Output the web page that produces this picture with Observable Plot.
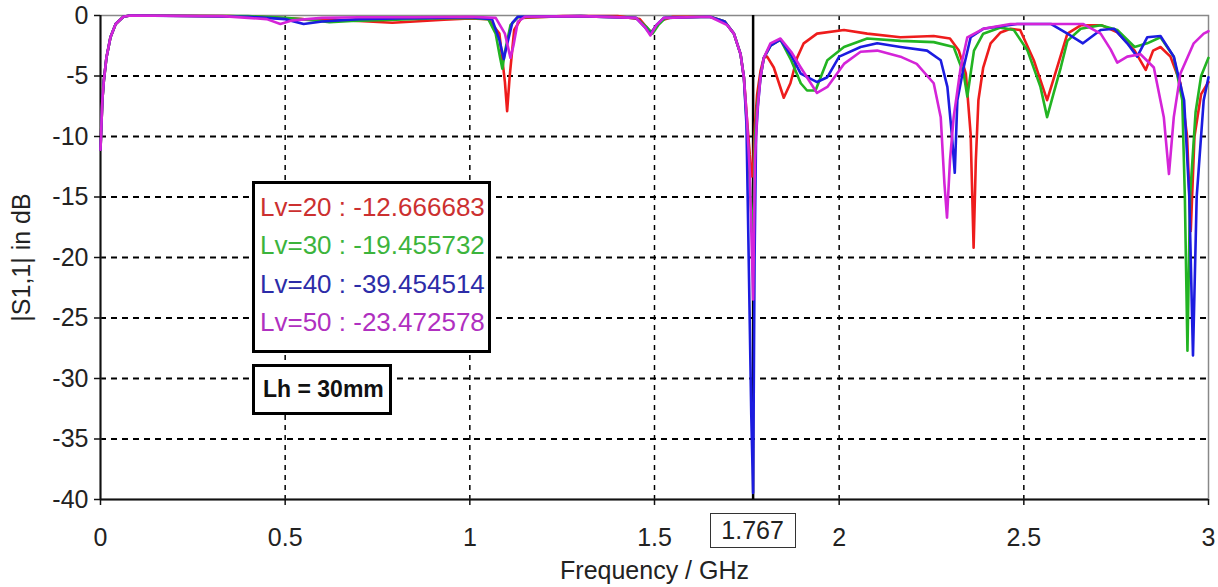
<!DOCTYPE html>
<html><head><meta charset="utf-8">
<script src="https://cdn.jsdelivr.net/npm/d3@7"></script>
<script src="https://cdn.jsdelivr.net/npm/@observablehq/plot@0.6"></script>
<style>
body{margin:0;background:#fff;font-family:"Liberation Sans",Arial,sans-serif;}
#wrap{position:relative;width:1218px;height:587px;overflow:hidden;}
.box{position:absolute;background:#fff;border:3px solid #000;box-sizing:border-box;}
.leg div{position:absolute;left:5px;font-size:26px;line-height:30px;white-space:nowrap;}
.mk{position:absolute;border:1.5px solid #333;box-sizing:border-box;font-size:25px;color:#222;text-align:center;background:#fff;}
</style></head><body><div id="wrap"></div><script>
// ---- data ----
const seriesNames = ["Lv=20", "Lv=30", "Lv=40", "Lv=50"];
const seriesColors = ["#ee1c1c", "#22b422", "#1c1ce0", "#d424d8"];
const legendColors = ["#cc3030", "#3cb43c", "#2c2ca8", "#b030c0"];
const legendValues = ["-12.666683", "-19.455732", "-39.454514", "-23.472578"];
const markerFreq = 1.767;
const lhText = "Lh = 30mm";
const xTicks = [0, 0.5, 1, 1.5, 2, 2.5, 3];
const yTicks = [0, -5, -10, -15, -20, -25, -30, -35, -40];
const xGridTicks = [0.5, 1, 1.5, 2, 2.5];
const yGridTicks = [-5, -10, -15, -20, -25, -30, -35];

const freq20 = [0,0.005,0.009,0.016,0.027,0.041,0.062,0.08,0.35,0.45,0.55,0.62,0.7,0.79,0.85,0.93,1.0,1.05,1.08,1.095,1.101,1.108,1.12,1.14,1.25,1.4,1.46,1.49,1.52,1.55,1.65,1.69,1.715,1.733,1.742,1.75,1.758,1.764,1.767,1.772,1.778,1.787,1.796,1.805,1.823,1.85,1.868,1.886,1.904,1.94,2.013,2.076,2.166,2.256,2.30,2.324,2.343,2.356,2.364,2.37,2.377,2.39,2.41,2.437,2.464,2.49,2.527,2.563,2.59,2.618,2.655,2.71,2.753,2.80,2.83,2.85,2.87,2.897,2.924,2.942,2.952,2.962,2.98,3.0];
const db20 = [-11.1,-7,-5.4,-3.5,-1.8,-0.7,-0.1,0,-0.05,-0.15,-0.3,-0.35,-0.45,-0.6,-0.5,-0.35,-0.25,-0.3,-1.5,-5.5,-7.9,-5,-1.2,-0.2,-0.05,-0.05,-0.3,-1.4,-0.4,-0.1,-0.1,-0.5,-1.5,-3.2,-5.1,-8.4,-11.5,-13.3,-12.67,-9,-6.5,-4.6,-3.5,-3.4,-4.3,-6.8,-5.6,-3.5,-2.3,-1.5,-1.2,-1.5,-1.8,-1.7,-1.9,-2.9,-4.8,-9.8,-19.2,-12,-7,-4.3,-2.3,-1.4,-1.1,-1.2,-3.7,-7,-4.3,-1.5,-0.8,-0.8,-1.4,-2.9,-4.5,-2.9,-2.6,-3.4,-5.6,-10,-17.8,-10,-6.5,-5.5];

const freq30 = [0,0.005,0.009,0.016,0.027,0.041,0.062,0.08,0.4,0.5,0.58,0.62,0.68,0.8,0.9,1.0,1.05,1.07,1.082,1.088,1.095,1.11,1.13,1.3,1.45,1.48,1.495,1.51,1.53,1.65,1.69,1.715,1.733,1.742,1.75,1.756,1.767,1.772,1.778,1.787,1.796,1.814,1.841,1.87,1.896,1.913,1.936,1.968,2.013,2.076,2.166,2.256,2.31,2.337,2.347,2.355,2.365,2.39,2.437,2.473,2.51,2.545,2.563,2.58,2.6,2.618,2.654,2.708,2.753,2.80,2.834,2.87,2.906,2.929,2.936,2.943,2.95,2.965,2.98,3.0];
const db30 = [-11.1,-7,-5.4,-3.5,-1.8,-0.7,-0.1,0,-0.05,-0.2,-0.4,-0.55,-0.45,-0.35,-0.25,-0.2,-0.3,-1.5,-3.5,-4.4,-3,-0.8,-0.15,-0.05,-0.2,-1.0,-1.5,-0.8,-0.2,-0.1,-0.5,-1.5,-3.2,-5.1,-9,-12.5,-19.46,-10,-7.5,-5.1,-3.5,-2.5,-2.0,-3.7,-5.6,-6.2,-6.2,-3.7,-2.6,-1.9,-2.1,-2.2,-2.6,-4.8,-6.7,-5,-2.9,-1.5,-1.0,-1.2,-2.9,-5.9,-8.4,-6.5,-4.3,-2.1,-1.1,-0.8,-1.2,-2.6,-2.3,-1.8,-3.4,-7,-15,-27.7,-15,-8,-5,-3.5];

const freq40 = [0,0.005,0.009,0.016,0.027,0.041,0.062,0.08,0.4,0.5,0.55,0.6,0.7,0.8,0.9,1.0,1.06,1.08,1.092,1.10,1.115,1.13,1.3,1.45,1.475,1.489,1.505,1.525,1.65,1.69,1.715,1.733,1.742,1.749,1.755,1.762,1.767,1.771,1.775,1.78,1.787,1.796,1.814,1.841,1.87,1.896,1.94,1.968,2.0,2.058,2.103,2.166,2.238,2.275,2.293,2.305,2.313,2.32,2.337,2.356,2.39,2.482,2.573,2.618,2.66,2.708,2.745,2.78,2.807,2.834,2.87,2.906,2.934,2.948,2.958,2.968,2.987,3.0];
const db40 = [-11.1,-7,-5.4,-3.5,-1.8,-0.7,-0.1,0,-0.1,-0.3,-0.7,-0.5,-0.3,-0.25,-0.2,-0.15,-0.3,-2,-3.6,-2.5,-0.6,-0.1,-0.05,-0.2,-1.0,-1.55,-0.8,-0.2,-0.1,-0.5,-1.5,-3.2,-5.1,-9,-20,-33,-39.45,-20,-10,-7.5,-5.1,-3.5,-2.5,-2.0,-3.3,-4.8,-5.5,-5.1,-3.4,-2.6,-2.3,-2.6,-2.9,-3.7,-5.9,-9.8,-13,-7,-4.3,-1.8,-1.1,-0.7,-0.7,-1.5,-2.3,-1.2,-1.1,-2.3,-3.4,-1.8,-1.7,-3.4,-7,-15,-28.1,-15,-7,-5.1];

const freq50 = [0,0.005,0.009,0.016,0.027,0.041,0.062,0.08,0.33,0.4,0.45,0.487,0.52,0.6,0.7,0.85,1.0,1.07,1.095,1.11,1.118,1.13,1.15,1.3,1.45,1.475,1.489,1.505,1.525,1.65,1.697,1.715,1.733,1.742,1.75,1.758,1.767,1.772,1.778,1.787,1.796,1.814,1.841,1.87,1.896,1.94,1.968,2.013,2.058,2.103,2.166,2.21,2.256,2.275,2.285,2.292,2.3,2.31,2.329,2.347,2.39,2.464,2.573,2.66,2.708,2.735,2.753,2.78,2.816,2.852,2.879,2.893,2.906,2.924,2.96,2.987,3.0];
const db50 = [-11.1,-7,-5.4,-3.5,-1.8,-0.7,-0.1,0,-0.05,-0.2,-0.3,-0.7,-0.4,-0.2,-0.15,-0.15,-0.1,-0.2,-1.5,-3.5,-2.5,-0.5,-0.1,-0.05,-0.2,-1.0,-1.65,-0.8,-0.2,-0.1,-0.8,-1.5,-3.2,-5.1,-8.5,-13,-23.47,-12,-8,-5.1,-3.5,-2.3,-1.9,-3,-4.3,-6.4,-5.9,-4.0,-3.0,-2.9,-3.4,-4.0,-5.6,-8.4,-13.9,-16.7,-12,-8.4,-4.3,-1.8,-1.1,-0.7,-0.7,-0.7,-1.5,-2.8,-3.9,-3.4,-3.2,-4.3,-8.4,-13.1,-8.4,-4.8,-2.3,-1.5,-1.3];

const freqs = [freq20, freq30, freq40, freq50];
const dbs = [db20, db30, db40, db50];
const rows = [];
seriesNames.forEach((s, i) => freqs[i].forEach((f, j) => rows.push({s, f, db: dbs[i][j]})));

const fmt = d => String(d);
const plot = Plot.plot({
  width: 1218, height: 587,
  marginTop: 15, marginBottom: 88, marginLeft: 100, marginRight: 10,
  style: {fontFamily: '"Liberation Sans", Arial, sans-serif', fontSize: "25px", color: "#222", background: "#fff"},
  x: {domain: [0, 3]},
  y: {domain: [-40, 0]},
  color: {domain: seriesNames, range: seriesColors},
  marks: [
    Plot.gridX(xGridTicks, {stroke: "#000", strokeOpacity: 1, strokeWidth: 1.5, strokeDasharray: "5,5"}),
    Plot.gridY(yGridTicks, {stroke: "#000", strokeOpacity: 1, strokeWidth: 1.8, strokeDasharray: "6,5"}),
    Plot.frame({stroke: "#888", strokeWidth: 1.5}),
    Plot.ruleX([0], {stroke: "#111", strokeWidth: 2}),
    Plot.ruleY([-40], {stroke: "#111", strokeWidth: 2}),
    Plot.ruleX([markerFreq], {stroke: "#000", strokeWidth: 2.5}),
    Plot.line(rows, {x: "f", y: "db", z: "s", stroke: "s", strokeWidth: 2.6, strokeLinejoin: "round"}),
    Plot.axisX(xTicks, {tickSize: 6, tickPadding: 23, tickFormat: fmt, stroke: "#111", strokeWidth: 1.5,
      label: "Frequency / GHz", labelAnchor: "center", labelArrow: "none", labelOffset: 79}),
    Plot.axisY(yTicks, {tickSize: 6, tickPadding: 6, tickFormat: fmt, stroke: "#111", strokeWidth: 1.5,
      label: "|S1,1| in dB", labelAnchor: "center", labelArrow: "none", labelOffset: 88})
  ]
});
const wrap = document.getElementById("wrap");
wrap.appendChild(plot);

// legend box
const leg = document.createElement("div");
leg.className = "box leg";
Object.assign(leg.style, {left: "252px", top: "181px", width: "239px", height: "172px"});
seriesNames.forEach((s, i) => {
  const d = document.createElement("div");
  d.textContent = `${s} : ${legendValues[i]}`;
  d.style.color = legendColors[i];
  d.style.top = (8 + i * 38.3) + "px";
  leg.appendChild(d);
});
wrap.appendChild(leg);

const lh = document.createElement("div");
lh.className = "box";
Object.assign(lh.style, {left: "252px", top: "364px", width: "140px", height: "51px",
  fontWeight: "bold", fontSize: "23px", lineHeight: "45px", paddingLeft: "8px", color: "#111"});
lh.textContent = lhText;
wrap.appendChild(lh);

const mx = plot.scale("x").apply(markerFreq);
const mk = document.createElement("div");
mk.className = "mk";
Object.assign(mk.style, {left: (mx - 43) + "px", top: "513px", width: "86px", height: "35px", lineHeight: "32px"});
mk.textContent = String(markerFreq);
wrap.appendChild(mk);
</script></body></html>
